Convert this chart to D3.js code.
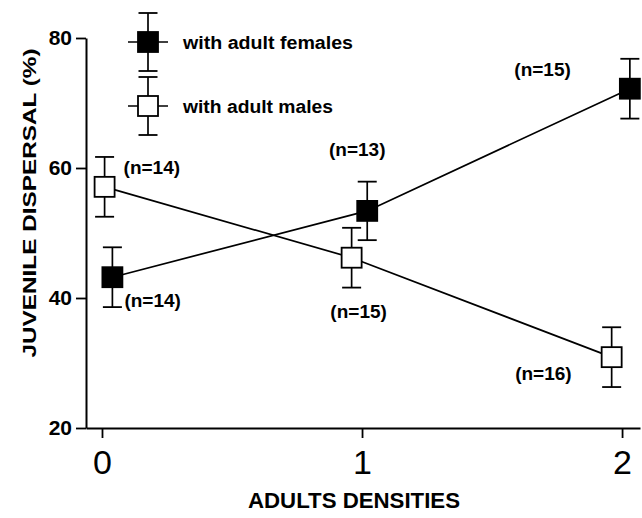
<!DOCTYPE html>
<html>
<head>
<meta charset="utf-8">
<script src="https://cdn.jsdelivr.net/npm/d3@7"></script>
<style>
  body { margin: 0; background: #fff; }
  text { font-family: "Liberation Sans", Arial, sans-serif; fill: #000; }
</style>
</head>
<body>
<div id="chart"></div>
<script>
// data
const densities = [0, 1, 2];
const xTickLabels = ["0", "1", "2"];
const yTicks = [20, 40, 60, 80];

// points are slightly offset from the integer densities in the original
const femaleX = [0.04, 1.02, 2.03];
const femaleMean = [43.2, 53.4, 72.2];
const femaleErr = [4.6, 4.5, 4.6];
const femaleN = ["(n=14)", "(n=13)", "(n=15)"];

const maleX = [0.01, 0.96, 1.96];
const maleMean = [57.1, 46.2, 30.9];
const maleErr = [4.6, 4.6, 4.6];
const maleN = ["(n=14)", "(n=15)", "(n=16)"];

const width = 642, height = 518;

const svg = d3.select("#chart")
  .append("svg")
  .attr("width", width)
  .attr("height", height);

// x axis runs from the y axis to the right edge
const x = d3.scaleLinear().domain([-0.0615, 2.069]).range([86, 640]);
const y = d3.scaleLinear().domain([20, 80]).range([428, 38]);

// axes
const yAxis = svg.append("g")
  .attr("transform", "translate(86,0)")
  .call(d3.axisLeft(y).tickValues(yTicks).tickSize(10).tickSizeOuter(0).tickPadding(4));
yAxis.selectAll("text")
  .style("font-size", "21px")
  .style("font-weight", "bold");

const xAxis = svg.append("g")
  .attr("transform", "translate(0,428)")
  .call(d3.axisBottom(x).tickValues(densities).tickFormat((d, i) => xTickLabels[i])
    .tickSize(10).tickSizeOuter(0).tickPadding(12));
xAxis.selectAll("text")
  .style("font-size", "34px");

svg.selectAll(".domain").attr("stroke", "#000").attr("stroke-width", 2);
svg.selectAll(".tick line").attr("stroke", "#000").attr("stroke-width", 1.8);

// axis titles
svg.append("text")
  .attr("transform", "translate(30,203) rotate(-90)")
  .attr("text-anchor", "middle")
  .attr("dominant-baseline", "central")
  .attr("textLength", 309)
  .attr("lengthAdjust", "spacingAndGlyphs")
  .style("font-size", "18px")
  .style("font-weight", "bold")
  .text("JUVENILE DISPERSAL (%)");

svg.append("text")
  .attr("x", 354)
  .attr("y", 500)
  .attr("text-anchor", "middle")
  .attr("dominant-baseline", "central")
  .attr("textLength", 212)
  .attr("lengthAdjust", "spacingAndGlyphs")
  .style("font-size", "22px")
  .style("font-weight", "bold")
  .text("ADULTS DENSITIES");

// build the two series
function series(xs, means, errs, ns) {
  return xs.map((d, i) => ({ x: d, mean: means[i], err: errs[i], n: ns[i] }));
}
const female = series(femaleX, femaleMean, femaleErr, femaleN);
const male = series(maleX, maleMean, maleErr, maleN);

const line = d3.line().x(d => x(d.x)).y(d => y(d.mean));

const half = 10;   // half size of square markers
const capW = 9.5;  // half width of error bar caps

function drawSeries(data, fill, cls) {
  const g = svg.append("g").attr("class", cls);

  g.append("path")
    .datum(data)
    .attr("d", line)
    .attr("fill", "none")
    .attr("stroke", "#000")
    .attr("stroke-width", 1.7);

  const pt = g.selectAll(".pt")
    .data(data)
    .enter().append("g")
    .attr("class", "pt");

  pt.append("line")
    .attr("x1", d => x(d.x)).attr("x2", d => x(d.x))
    .attr("y1", d => y(d.mean + d.err)).attr("y2", d => y(d.mean - d.err))
    .attr("stroke", "#000").attr("stroke-width", 1.7);
  pt.append("line")
    .attr("x1", d => x(d.x) - capW).attr("x2", d => x(d.x) + capW)
    .attr("y1", d => y(d.mean + d.err)).attr("y2", d => y(d.mean + d.err))
    .attr("stroke", "#000").attr("stroke-width", 1.8);
  pt.append("line")
    .attr("x1", d => x(d.x) - capW).attr("x2", d => x(d.x) + capW)
    .attr("y1", d => y(d.mean - d.err)).attr("y2", d => y(d.mean - d.err))
    .attr("stroke", "#000").attr("stroke-width", 1.8);

  pt.append("rect")
    .attr("x", d => x(d.x) - half)
    .attr("y", d => y(d.mean) - half)
    .attr("width", half * 2)
    .attr("height", half * 2)
    .attr("fill", fill)
    .attr("stroke", "#000")
    .attr("stroke-width", 1.8);
}

drawSeries(male, "#fff", "male");
drawSeries(female, "#000", "female");

// n labels, placed around each point as in the original
const femaleLabelPos = [
  { dx: 12, dy: 23, anchor: "start" },
  { dx: -10, dy: -61, anchor: "middle" },
  { dx: -59, dy: -19, anchor: "end" }
];
const maleLabelPos = [
  { dx: 19, dy: -19, anchor: "start" },
  { dx: 7, dy: 54, anchor: "middle" },
  { dx: -40, dy: 16, anchor: "end" }
];

function drawLabels(data, pos) {
  svg.append("g").selectAll("text")
    .data(data)
    .enter().append("text")
    .attr("x", (d, i) => x(d.x) + pos[i].dx)
    .attr("y", (d, i) => y(d.mean) + pos[i].dy)
    .attr("text-anchor", (d, i) => pos[i].anchor)
    .attr("dominant-baseline", "central")
    .style("font-size", "19px")
    .style("font-weight", "bold")
    .text(d => d.n);
}
drawLabels(female, femaleLabelPos);
drawLabels(male, maleLabelPos);

// legend
const legendItems = [
  { label: "with adult females", fill: "#000", cy: 42, len: 170 },
  { label: "with adult males", fill: "#fff", cy: 106, len: 150 }
];
const legend = svg.append("g").attr("class", "legend");
const li = legend.selectAll("g")
  .data(legendItems)
  .enter().append("g")
  .attr("transform", d => "translate(148," + d.cy + ")");

li.append("line").attr("x1", 0).attr("x2", 0).attr("y1", -29).attr("y2", 29)
  .attr("stroke", "#000").attr("stroke-width", 1.7);
li.append("line").attr("x1", -20).attr("x2", 20).attr("y1", 0).attr("y2", 0)
  .attr("stroke", "#000").attr("stroke-width", 1.7);
li.append("line").attr("x1", -capW).attr("x2", capW).attr("y1", -29).attr("y2", -29)
  .attr("stroke", "#000").attr("stroke-width", 1.8);
li.append("line").attr("x1", -capW).attr("x2", capW).attr("y1", 29).attr("y2", 29)
  .attr("stroke", "#000").attr("stroke-width", 1.8);
li.append("rect")
  .attr("x", -half).attr("y", -half)
  .attr("width", half * 2).attr("height", half * 2)
  .attr("fill", d => d.fill)
  .attr("stroke", "#000")
  .attr("stroke-width", 1.8);
li.append("text")
  .attr("x", 35)
  .attr("y", 1)
  .attr("dominant-baseline", "central")
  .attr("textLength", d => d.len)
  .attr("lengthAdjust", "spacingAndGlyphs")
  .style("font-size", "18px")
  .style("font-weight", "bold")
  .text(d => d.label);
</script>
</body>
</html>
